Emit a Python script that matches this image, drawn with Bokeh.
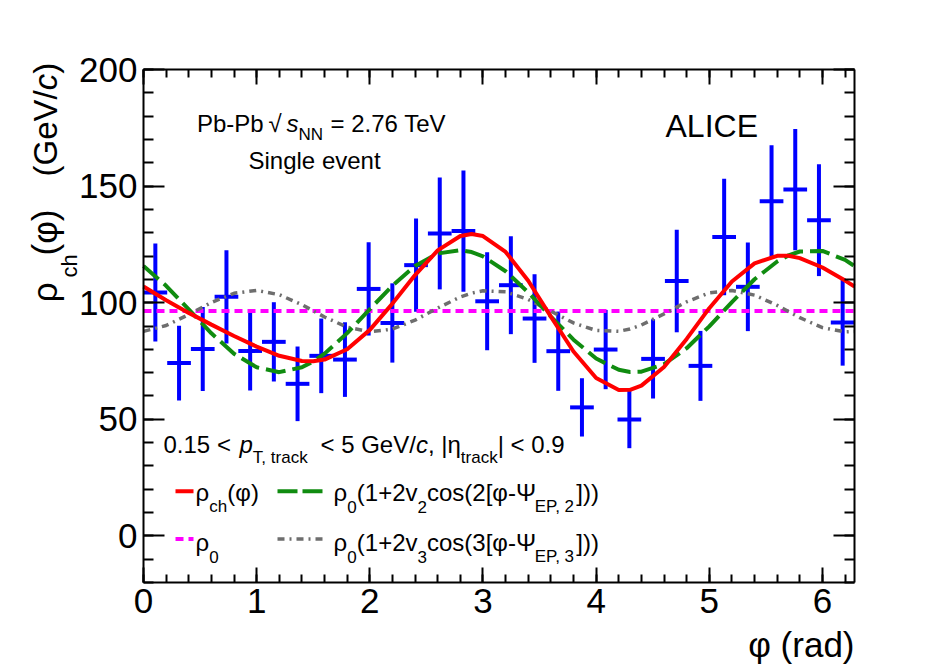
import numpy as np
from bokeh.plotting import figure
from bokeh.models import (Range1d, LinearAxis, SingleIntervalTicker, Label,
                          ColumnDataSource)
from bokeh.embed import file_html
from bokeh.resources import INLINE

# ---------------- data ----------------
n_bins = 30
phi_edges = np.linspace(0.0, 2 * np.pi, n_bins + 1)
rho_ch = [104.4, 74.1, 80.1, 102.5, 79.3, 83.2, 65.2, 77.2, 75.6, 105.9,
          91.3, 116.1, 129.7, 130.7, 100.6, 107.5, 93.2, 79.2, 55.1, 79.9,
          49.9, 75.9, 109.3, 72.9, 128.2, 106.8, 143.5, 148.5, 135.4, 91.5]
rho_err = [21.0, 16.0, 18.0, 20.0, 17.0, 17.0, 16.0, 16.0, 16.0, 20.0,
           17.0, 20.0, 24.0, 26.0, 21.0, 21.0, 19.0, 17.0, 12.5, 17.0,
           12.3, 17.0, 22.0, 15.0, 25.0, 19.0, 24.0, 26.0, 24.0, 18.5]

curve_phi = [0.0, 0.2, 0.4, 0.6, 0.8, 1.0, 1.2, 1.4, 1.5, 1.6, 1.8, 2.0, 2.2,
             2.4, 2.6, 2.8, 2.9, 3.0, 3.2, 3.4, 3.6, 3.8, 4.0, 4.2, 4.3, 4.4,
             4.6, 4.8, 5.0, 5.2, 5.4, 5.6, 5.7, 5.8, 6.0, 6.2, 6.2832]
rho_fit_full = [106.97, 101.05, 95.62, 90.58, 85.73, 81.16, 77.23, 75.02, 74.89,
                75.61, 80.02, 88.34, 99.60, 111.86, 122.41, 128.60, 129.42, 128.56,
                121.77, 109.39, 94.01, 79.05, 67.72, 62.55, 62.63, 64.42, 72.44,
                84.46, 97.64, 109.11, 116.88, 120.11, 120.09, 119.12, 115.09,
                109.47, 106.97]
rho_fit_v2 = [115.69, 107.25, 97.12, 86.87, 78.10, 72.28, 70.20, 72.30, 74.79,
              78.15, 86.94, 97.21, 107.33, 115.75, 121.10, 122.55, 121.72, 119.88,
              113.49, 104.41, 94.06, 84.13, 76.03, 71.21, 70.29, 70.39, 73.64,
              80.48, 89.86, 100.25, 110.04, 117.67, 120.29, 121.95, 122.19,
              118.36, 115.69]
rho_fit_v3 = [87.68, 90.20, 94.90, 100.11, 104.03, 105.28, 103.43, 99.12, 96.50,
              93.86, 89.48, 87.53, 88.67, 92.51, 97.71, 102.45, 104.11, 105.08,
              104.68, 101.38, 96.35, 91.32, 88.09, 87.74, 88.74, 90.43, 95.20,
              100.38, 104.18, 105.26, 103.24, 98.84, 96.20, 93.57, 89.30, 87.51,
              87.68]
rho0 = 96.4

x_lim = (0.0, 2 * np.pi)
y_lim = (-20.0, 200.0)

# ---------------- canvas / frame geometry ----------------
FONT = "Liberation Sans"
W, H = 948, 664
BOX_L, BOX_T, BOX_W, BOX_H = 143, 69, 711, 513   # drawn axis box in pixels
SX = BOX_W / (x_lim[1] - x_lim[0])
SY = BOX_H / (y_lim[1] - y_lim[0])
xa = x_lim[0] - BOX_L / SX
xb = xa + W / SX
yb = y_lim[1] + BOX_T / SY
ya = yb - H / SY


def dx(px):
    return xa + px / SX


def dy(py):
    return yb - py / SY


p = figure(width=W, height=H, title=None,
           min_border=0, min_border_left=0, min_border_right=0,
           min_border_top=0, min_border_bottom=0,
           x_range=Range1d(xa, xb), y_range=Range1d(ya, yb),
           x_axis_type=None, y_axis_type=None,
           output_backend="svg", toolbar_location=None)
p.background_fill_color = "white"
p.border_fill_color = "white"
p.outline_line_color = None
p.xgrid.visible = False
p.ygrid.visible = False


def make_axis(interval, tick_in, minor_in, loc, bounds, show_labels):
    ax = LinearAxis(ticker=SingleIntervalTicker(interval=interval, num_minor_ticks=5),
                    fixed_location=loc, bounds=bounds,
                    major_tick_in=tick_in, major_tick_out=0,
                    minor_tick_in=minor_in, minor_tick_out=0,
                    axis_line_color="black", axis_line_width=2,
                    major_tick_line_color="black", major_tick_line_width=2,
                    minor_tick_line_color="black", minor_tick_line_width=2,
                    major_label_text_font=FONT,
                    major_label_text_font_size="35px",
                    major_label_text_color="black",
                    major_label_standoff=6)
    if not show_labels:
        ax.major_label_text_alpha = 0.0
        ax.major_label_text_font_size = "1px"
    return ax


p.add_layout(make_axis(1, 15, 8, y_lim[0], x_lim, True), "below")
p.add_layout(make_axis(1, 15, 8, y_lim[1], x_lim, False), "above")
p.add_layout(make_axis(50, 21, 10, x_lim[0], y_lim, True), "left")
p.add_layout(make_axis(50, 21, 10, x_lim[1], y_lim, False), "right")

# ---------------- data marks ----------------
centers = 0.5 * (phi_edges[:-1] + phi_edges[1:])
rc = np.array(rho_ch)
re = np.array(rho_err)
src = ColumnDataSource(dict(x=centers, xl=phi_edges[:-1], xh=phi_edges[1:],
                            y=rc, ylo=rc - re, yhi=rc + re))
p.segment(x0="x", y0="ylo", x1="x", y1="yhi", source=src,
          line_color="#0000ff", line_width=4)
p.segment(x0="xl", y0="y", x1="xh", y1="y", source=src,
          line_color="#0000ff", line_width=4)

MAG, GRN, GRY, RED = "#ff00ff", "#108c10", "#6e6e6e", "#ff0000"
p.line(curve_phi, [rho0] * len(curve_phi), line_color=MAG, line_width=4,
       line_dash="8 5")
p.line(curve_phi, rho_fit_v3, line_color=GRY, line_width=3.5, line_dash="7 5 2 5")
p.line(curve_phi, rho_fit_v2, line_color=GRN, line_width=4, line_dash="20 7")
p.line(curve_phi, rho_fit_full, line_color=RED, line_width=4)

# ---------------- text runs ----------------
CW = {' ': 278, '(': 333, ')': 333, '+': 584, ',': 278, '-': 333, '.': 278,
      '/': 278, '<': 584, '=': 584, '[': 278, ']': 278, '|': 260,
      'A': 667, 'C': 722, 'E': 667, 'G': 778, 'I': 278, 'L': 556, 'N': 722,
      'P': 667, 'S': 667, 'T': 611, 'V': 667,
      'a': 556, 'b': 556, 'c': 500, 'd': 556, 'e': 556, 'g': 556, 'h': 556,
      'i': 222, 'k': 500, 'l': 222, 'n': 556, 'o': 556, 'p': 556, 'r': 333,
      's': 500, 't': 278, 'v': 500,
      'ρ': 578, 'φ': 654, 'Ψ': 778, 'η': 556, '√': 549}
K_BASE = 0.346   # label anchor sits this many em above the glyph baseline


def tw(s, size):
    return sum(CW.get(ch, 556) for ch in s) * size / 1000.0


def put_run(px, py, parts, angle=0.0, align="left"):
    cur = 0.0
    for text, size, style, off in parts:
        if angle == 0.0:
            x, y = px + cur, py + off - K_BASE * size
        else:
            x, y = px + off - K_BASE * size, py - cur
        p.add_layout(Label(x=dx(x), y=dy(y), text=text, text_font=FONT,
                           text_font_size=f"{size}px", text_font_style=style,
                           text_color="black", text_align=align,
                           text_baseline="alphabetic", angle=angle))
        cur += tw(text, size)


N, I = "normal", "italic"

# header texts
put_run(196.5, 131.5, [("Pb-Pb", 24, N, 0)])
put_run(268, 131.5, [("√", 24, N, 0)])
put_run(286, 131.5, [("s", 24, I, 0), ("NN", 17, N, 8)])
put_run(330, 131.5, [("= 2.76 TeV", 24, N, 0)])
put_run(248, 168, [("Single event", 24, N, 0)])
put_run(665, 137, [("ALICE", 32, N, 0)])

# kinematic cuts
put_run(163, 452, [("0.15 <", 24, N, 0)])
put_run(239, 452, [("p", 24, I, 0), ("T, track", 17, N, 11)])
put_run(320, 452, [("< 5 GeV/", 24, N, 0), ("c", 24, I, 0), (", |η", 24, N, 0),
                   ("track", 17, N, 11), ("| < 0.9", 24, N, 0)])

# legend samples
row1, row2 = 490.7, 538.5
p.line([dx(175), dx(193)], [dy(row1)] * 2, line_color=RED, line_width=4)
p.line([dx(175), dx(193)], [dy(row2)] * 2, line_color=MAG, line_width=4, line_dash="8 5")
p.line([dx(277), dx(322)], [dy(row1)] * 2, line_color=GRN, line_width=4, line_dash="20 5")
p.line([dx(277), dx(322)], [dy(row2)] * 2, line_color=GRY, line_width=3.5, line_dash="7 5 2 5")

# legend texts
put_run(195, 500, [("ρ", 24, N, 0), ("ch", 17, N, 12), ("(φ)", 24, N, 0)])
put_run(195, 550, [("ρ", 24, N, 0), ("0", 17, N, 12)])
put_run(333, 500, [("ρ", 24, N, 0), ("0", 17, N, 12), ("(1+2v", 24, N, 0),
                   ("2", 17, N, 12), ("cos(2[φ-Ψ", 24, N, 0), ("EP, 2", 17, N, 12),
                   ("]))", 24, N, 0)])
put_run(333, 550, [("ρ", 24, N, 0), ("0", 17, N, 12), ("(1+2v", 24, N, 0),
                   ("3", 17, N, 12), ("cos(3[φ-Ψ", 24, N, 0), ("EP, 3", 17, N, 12),
                   ("]))", 24, N, 0)])

# axis titles
put_run(854, 656, [("φ (rad)", 35, N, 0)], align="right")
ang = np.pi / 2
put_run(56, 301.7, [("ρ", 35, N, 0)], angle=ang)
put_run(77, 277, [("ch", 22, N, 0)], angle=ang)
put_run(56, 255, [("(φ)", 35, N, 0)], angle=ang)
put_run(56, 176, [("(GeV/", 33, N, 0), ("c", 33, I, 0), (")", 33, N, 0)], angle=ang)

open("out.html", "w").write(file_html(p, INLINE))
